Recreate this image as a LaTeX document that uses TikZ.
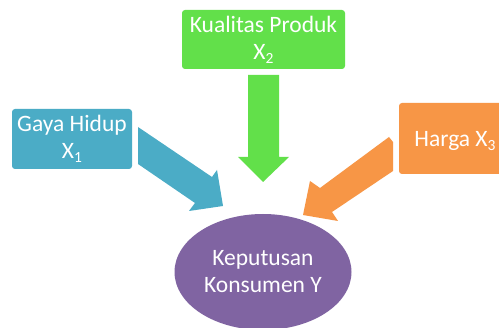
\documentclass[tikz,border=0pt]{standalone}
\usepackage{fontspec}
\setmainfont{Carlito}
\definecolor{cgreen}{HTML}{62E04A}
\definecolor{cblue}{HTML}{4BACC6}
\definecolor{corange}{HTML}{F79646}
\definecolor{cpurple}{HTML}{8064A2}
\newcommand{\mysub}[1]{\raisebox{-0.35ex}{\fontsize{15.5}{15.5}\selectfont #1}}
\tikzset{
  box/.style={rounded corners=3pt, draw=none},
  lbl/.style={text=white, align=center, font=\fontsize{23.5}{27}\selectfont, inner sep=0pt},
  blockarrow/.style={draw=none}
}
\begin{document}
\begin{tikzpicture}[x=1pt,y=-1pt]
\clip (0,0) rectangle (499,328);
\fill[white] (0,0) rectangle (499,328);
% boxes
\fill[box, cgreen] (182,10) rectangle (345,69);
\fill[box, cblue] (12,109) rectangle (132,169);
\fill[box, corange] (399,103) rectangle (515,174);
\fill[cpurple] (263,272) ellipse [x radius=88.5, y radius=58];
% labels
\node[lbl] (kp) at (263.5,40) {Kualitas Produk\\X\mysub{2}};
\node[lbl] (gh) at (72,139) {Gaya Hidup\\X\mysub{1}};
\node[lbl] (hx) at (455,141) {Harga X\mysub{3}};
\node[lbl] (ky) at (263,272) {Keputusan\\Konsumen Y};
% block arrows
\fill[blockarrow, cgreen] (248,75) -- (279,75) -- (279,157) -- (289,157) -- (263,182) -- (238,157) -- (248,157) -- cycle;
\fill[blockarrow, cblue] (138,127) -- (212,177) -- (217,170) -- (223,206) -- (189,211) -- (195,203) -- (138,164) -- cycle;
\fill[blockarrow, corange] (389,137) -- (393,142) -- (393,171) -- (332,212) -- (338,221) -- (303,215) -- (310,181) -- (320,188) -- cycle;
\end{tikzpicture}
\end{document}
